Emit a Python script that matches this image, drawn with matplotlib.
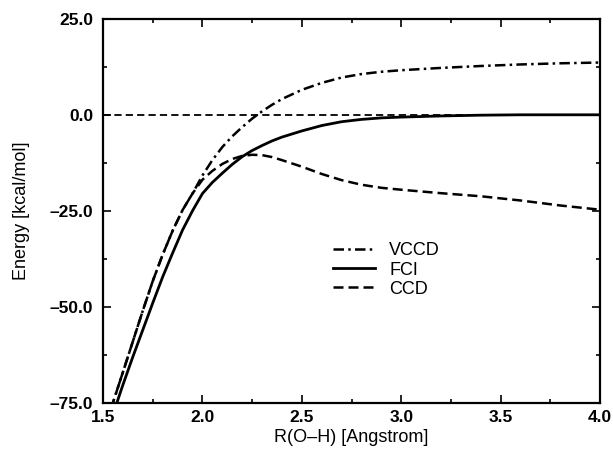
import matplotlib
matplotlib.use('Agg')
import matplotlib.pyplot as plt
from matplotlib.ticker import MultipleLocator, FuncFormatter, FormatStrFormatter

plt.rcParams['font.family'] = ['Liberation Sans', 'DejaVu Sans']

# FCI curve
r_fci = [1.55, 1.6, 1.65, 1.7, 1.75, 1.8, 1.85, 1.9, 1.95, 2.0, 2.05, 2.1, 2.15,
         2.2, 2.25, 2.3, 2.35, 2.4, 2.5, 2.6, 2.7, 2.8, 2.9, 3.0, 3.2, 3.4, 3.6, 4.0]
e_fci = [-78.0, -70.3, -63.0, -56.0, -49.0, -42.2, -36.0, -30.0, -25.0, -20.5, -17.6,
         -15.2, -12.9, -10.9, -9.3, -8.0, -6.8, -5.8, -4.2, -2.8, -1.8, -1.2, -0.8,
         -0.6, -0.3, -0.1, 0.0, 0.0]

# CCD and VCCD share the steep part below R = 1.95
r_low = [1.54, 1.6, 1.65, 1.7, 1.75, 1.8, 1.85, 1.9, 1.95]
e_low = [-76.5, -67.0, -59.0, -51.0, -43.3, -36.4, -30.2, -24.8, -20.5]

r_up = [2.0, 2.05, 2.1, 2.15, 2.2, 2.25, 2.3, 2.35, 2.4, 2.5, 2.6, 2.7, 2.8, 2.9,
        3.0, 3.2, 3.4, 3.6, 3.8, 4.0]
e_vccd_up = [-15.8, -11.8, -8.4, -5.6, -3.2, -1.0, 0.9, 2.6, 4.1, 6.5, 8.3, 9.7,
             10.6, 11.2, 11.6, 12.2, 12.7, 13.1, 13.4, 13.6]
e_ccd_up = [-16.9, -14.6, -12.8, -11.5, -10.7, -10.4, -10.5, -11.0, -11.8, -13.5,
            -15.4, -17.0, -18.2, -19.0, -19.5, -20.4, -21.2, -22.3, -23.6, -24.7]

r_vccd = r_low + r_up
e_vccd = e_low + e_vccd_up
r_ccd = r_low + r_up
e_ccd = e_low + e_ccd_up

fig = plt.figure(figsize=(6.13, 4.5), dpi=100)
ax = fig.add_axes([0.168, 0.1044, 0.811, 0.854])

# reference zero line
ax.axhline(0.0, color='black', lw=1.3, linestyle=(0, (4.0, 2.3)))

ax.plot(r_vccd, e_vccd, color='black', lw=1.8, linestyle=(0, (4.2, 1.7, 1.0, 1.7)), label='VCCD')
ax.plot(r_fci, e_fci, color='black', lw=2.0, linestyle='-', label='FCI')
ax.plot(r_ccd, e_ccd, color='black', lw=1.8, linestyle=(0, (4.0, 2.0)), label='CCD')

ax.set_xlim(1.5, 4.0)
ax.set_ylim(-75, 25)
ax.xaxis.set_major_locator(MultipleLocator(0.5))
ax.xaxis.set_minor_locator(MultipleLocator(0.25))
ax.yaxis.set_major_locator(MultipleLocator(25))
ax.yaxis.set_minor_locator(MultipleLocator(12.5))
ax.xaxis.set_major_formatter(FormatStrFormatter('%.1f'))
ax.yaxis.set_major_formatter(FuncFormatter(lambda v, p: ('%.1f' % v).replace('-', '\u2013')))

ax.tick_params(which='both', direction='in', top=True, right=True, width=1.2)
ax.tick_params(which='major', length=6, labelsize=12.5)
ax.tick_params(axis='x', which='major', pad=5)
ax.tick_params(axis='y', which='major', pad=7)
ax.tick_params(which='minor', length=3)
for lab in ax.get_xticklabels() + ax.get_yticklabels():
    lab.set_fontweight('bold')
for sp in ax.spines.values():
    sp.set_linewidth(1.6)

ax.set_xlabel('R(O\u2013H) [Angstrom]', fontsize=13, labelpad=3)
ax.set_ylabel('Energy [kcal/mol]', fontsize=13, labelpad=14)

ax.legend(loc='center left', bbox_to_anchor=(0.463, 0.346), frameon=False,
          fontsize=13, handlelength=2.3, handletextpad=0.8, labelspacing=0.12,
          borderpad=0, borderaxespad=0)

fig.savefig('out.png', dpi=100)
